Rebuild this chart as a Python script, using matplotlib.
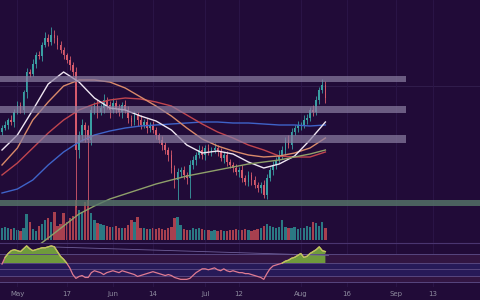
"""Daily candles with moving averages, volume and RSI on a dark purple theme.

Writes out.png (480x300).
"""
import numpy as np
import matplotlib
matplotlib.use("Agg")
import matplotlib.pyplot as plt

BG = "#210b38"
GRID = "#2c1649"
UP, DOWN = "#3a9fa3", "#d65a6c"
VOL_UP, VOL_DOWN = "#2b7883", "#a8404f"
BAND, BAND_LOW = "#8c7fa3", "#56786a"
LEVEL = "#57467f"
TEXT = "#8d8a9e"

# day 0 = Apr 26
first_open = 168
close = [172, 175, 180, 178, 188, 195, 190, 208, 228, 226,
         236, 245, 244, 255, 262, 258, 265, 262, 255, 250,
         245, 240, 235, 228, 150, 165, 175, 170, 160, 190,
         195, 188, 192, 200, 195, 190, 197, 192, 188, 195,
         190, 182, 178, 185, 180, 175, 178, 172, 175, 170,
         165, 160, 155, 150, 145, 132, 120, 128, 130, 125,
         122, 135, 140, 145, 150, 145, 152, 148, 150, 152,
         148, 142, 145, 138, 135, 132, 128, 130, 122, 118,
         125, 120, 115, 112, 115, 105, 122, 130, 135, 140,
         145, 150, 160, 155, 168, 172, 175, 175, 180, 182,
         190, 188, 200, 210, 215, 202]
upper_wick = [3, 4, 2, 5, 3, 4, 3, 2, 4, 3,
              5, 3, 4, 3, 6, 4, 8, 5, 3, 4,
              3, 2, 4, 3, 5, 4, 6, 3, 5, 4,
              3, 5, 4, 6, 3, 4, 5, 3, 4, 3,
              5, 4, 3, 4, 3, 5, 3, 4, 3, 4,
              3, 2, 4, 3, 3, 5, 3, 4, 3, 4,
              3, 5, 4, 3, 5, 4, 3, 4, 3, 5,
              3, 4, 3, 4, 3, 3, 4, 3, 5, 3,
              4, 3, 4, 3, 3, 5, 4, 3, 4, 3,
              5, 4, 3, 5, 4, 3, 4, 3, 5, 4,
              3, 5, 4, 3, 6, 4]
lower_wick = [3, 2, 4, 3, 5, 2, 3, 4, 6, 3,
              2, 4, 3, 5, 2, 4, 3, 5, 4, 3,
              4, 3, 5, 4, 57, 8, 6, 12, 65, 5,
              4, 6, 3, 5, 4, 8, 3, 5, 4, 6,
              3, 5, 4, 3, 6, 4, 3, 5, 4, 3,
              4, 3, 5, 4, 6, 5, 8, 20, 5, 4,
              6, 20, 4, 5, 3, 4, 5, 3, 4, 3,
              4, 3, 5, 4, 3, 4, 3, 5, 4, 3,
              4, 5, 3, 4, 5, 3, 4, 3, 5, 4,
              3, 4, 5, 3, 4, 3, 4, 5, 3, 4,
              3, 4, 3, 4, 3, 5]
volume = [12, 13, 12, 11, 12, 10, 9, 12, 26, 18,
          11, 9, 14, 16, 20, 22, 18, 28, 14, 16,
          27, 18, 22, 24, 40, 30, 28, 38, 40, 27,
          20, 17, 16, 15, 14, 13, 13, 14, 12, 12,
          12, 15, 20, 18, 23, 12, 12, 11, 11, 12,
          11, 12, 11, 10, 12, 13, 22, 23, 15, 11,
          10, 10, 12, 11, 12, 11, 10, 10, 9, 10,
          9, 10, 9, 9, 10, 10, 11, 10, 10, 11,
          10, 9, 10, 11, 12, 14, 16, 14, 13, 12,
          13, 20, 13, 12, 12, 13, 11, 12, 12, 14,
          13, 18, 17, 14, 18, 12]
rsi = [48.5, 59, 65, 69.5, 71, 69.5, 68, 72.5, 77, 72.5,
       69.5, 71, 72.5, 74, 74, 75.5, 77, 75.5, 68, 60.5,
       56, 50, 42.5, 32, 26, 29, 30.5, 27.5, 27.5, 35,
       38, 36.5, 35, 32, 35, 36.5, 38, 36.5, 35, 38,
       36.5, 35, 33.5, 32, 29, 30.5, 32, 33.5, 35, 36.5,
       35, 33.5, 32, 30.5, 32, 30.5, 27.5, 26, 24.5, 24.5,
       24.5, 26, 30.5, 35, 38, 41, 41, 39.5, 41, 42.5,
       39.5, 38, 41, 38, 36.5, 38, 36.5, 35, 35, 33.5,
       33.5, 32, 30.5, 29, 27.5, 24.5, 33.5, 41, 45.5, 47,
       48.5, 50, 53, 54.5, 57.5, 59, 62, 65, 59, 60.5,
       65, 68, 71, 75.5, 69.5, 68]

ma_days = [0, 5, 10, 15, 20, 25, 30, 35, 40, 45, 50,
           55, 60, 65, 70, 75, 80, 85, 90, 95, 100, 105]
ma_fast = [150, 165, 190, 216, 228, 218, 202, 192, 190, 184, 179,
           170, 155, 147, 149, 146, 138, 132, 136, 144, 160, 178]
ma_mid = [135, 152, 180, 198, 214, 220, 220, 218, 212, 203, 194,
          184, 172, 161, 154, 149, 145, 143, 144, 147, 152, 162]
ma_slow = [125, 137, 152, 167, 180, 190, 196, 200, 202, 201, 198,
           194, 185, 176, 168, 162, 155, 150, 144, 143, 143, 148]
ma_long = [107, 111, 120, 135, 148, 158, 165, 169, 172, 174, 175,
           176, 177, 178, 178, 177, 177, 176, 175, 175, 174, 175]
ma200_days = [12, 15, 20, 25, 30, 35, 40, 45, 50, 55, 60,
              65, 70, 75, 80, 85, 90, 95, 100, 105]
ma200 = [55, 62, 74, 86, 94, 101, 106, 111, 116, 120, 124,
         127, 130, 133, 136, 138, 140, 143, 146, 150]

zones = [(218, 224), (187, 194), (157, 165)]
support = (94, 100)
rsi_levels = [63.5, 50, 41, 30.5, 20]
rsi_trend_days = [15, 106]
rsi_trend = [75.5, 62]

tick_days = [5, 21, 36, 49, 66, 77, 97, 112, 128, 140]
tick_labels = ["May", "17", "Jun", "14", "Jul", "12", "Aug", "16", "Sep", "13"]

days = np.arange(len(close))
close = np.array(close, float)
opens = np.concatenate([[first_open], close[:-1]])
highs = np.maximum(opens, close) + np.array(upper_wick)
lows = np.minimum(opens, close) - np.array(lower_wick)
rising = close >= opens

fig = plt.figure(figsize=(4.8, 3.0), dpi=100, facecolor=BG)
ax = fig.add_axes([0, 57/300, 1, 243/300])
ax_rsi = fig.add_axes([0, 13/300, 1, 44/300], sharex=ax)
ax_vol = ax.twinx()
ax_vol.set_zorder(1)
ax.set_zorder(2)
ax.patch.set_visible(False)
ax_vol.set_facecolor(BG)

ax_vol.bar(days, volume, 0.75, color=np.where(rising, VOL_UP, VOL_DOWN))
ax_vol.set_ylim(-3, 240)

colours = np.where(rising, UP, DOWN)
ax.vlines(days, lows, highs, color=colours, lw=0.6, zorder=2)
ax.bar(days, close - opens, 0.55, bottom=opens, color=colours, zorder=2)

for vals, colour in ((ma_long, "#3f63c8"), (ma_slow, "#c0454f"),
                     (ma_mid, "#d98a6a"), (ma_fast, "#efe6f2")):
    ax.plot(ma_days, vals, color=colour, lw=1.0, zorder=3)
ax.plot(ma200_days, ma200, color="#8fa06a", lw=1.0, zorder=3)

for lo, hi in zones:
    ax.axhspan(lo, hi, xmax=406/480, color=BAND, alpha=0.7, lw=0, zorder=4)
ax.axhspan(*support, color=BAND_LOW, alpha=0.8, lw=0, zorder=4)
ax.axhline(214, color="#34204f", lw=0.6, zorder=1)

ax.set_xlim(-0.65, 155.2)
ax.set_ylim(57, 300)

ax_rsi.set_facecolor(BG)
ax_rsi.axhspan(rsi_levels[1], rsi_levels[0], color="#321542", lw=0)
ax_rsi.axhspan(rsi_levels[3], rsi_levels[1], color="#271a58", lw=0)
ax_rsi.axhspan(rsi_levels[4], rsi_levels[3], color="#321542", lw=0)
for level in rsi_levels:
    ax_rsi.axhline(level, color=LEVEL, lw=0.7)
ax_rsi.plot(rsi_trend_days, rsi_trend, color="#6e5e98", lw=0.6)
rsi = np.array(rsi)
ax_rsi.fill_between(days, rsi, 50, where=rsi >= 50, interpolate=True,
                    color="#6f9a3c", lw=0)
ax_rsi.plot(days, rsi, color="#e07b91", lw=0.9)
ax_rsi.plot(days, np.where(rsi >= 50, rsi, np.nan), color="#b9cf55", lw=0.9)
ax_rsi.set_ylim(12.5, 81.5)

for a in (ax, ax_vol, ax_rsi):
    a.set_yticks([])
    for side in ("left", "right", "bottom", "top"):
        a.spines[side].set_visible(False)
ax_rsi.spines["top"].set_visible(True)
ax_rsi.spines["top"].set_color("#4a3570")
ax.grid(axis="x", color=GRID, lw=0.6)
ax_rsi.grid(axis="x", color=GRID, lw=0.6)
ax_rsi.set_axisbelow(True)

ax_rsi.set_xticks(tick_days)
ax_rsi.set_xticklabels(tick_labels)
ax_rsi.tick_params(axis="x", length=0, labelsize=5, colors=TEXT, pad=3)
ax.tick_params(axis="x", labelbottom=False, length=0)
ax_vol.tick_params(axis="x", labelbottom=False, length=0)

fig.savefig("out.png", dpi=100, facecolor=BG)
